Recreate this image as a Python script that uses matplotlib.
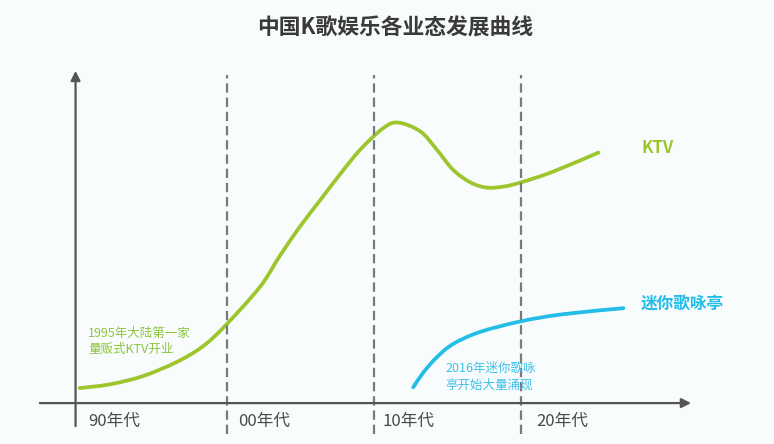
import matplotlib.pyplot as plt
from matplotlib.path import Path
from matplotlib.patches import PathPatch

plt.rcParams['font.family'] = ['Noto Sans CJK SC', 'DejaVu Sans']

# KTV 曲线 (年份, 相对热度)
ktv_year = [1990.0, 1992.1, 1994.3, 1996.6, 1998.4, 2000.0, 2002.3, 2003.6,
            2005.0, 2006.4, 2007.7, 2009.1, 2010.7, 2011.7, 2013.2, 2014.3,
            2015.4, 2016.6, 2017.7, 2018.8, 2020.0, 2022.2, 2025.3]
ktv_val = [5.0, 6.3, 9.0, 13.7, 19.0, 26.3, 39.0, 49.0,
           59.0, 68.0, 76.3, 84.7, 92.0, 93.7, 90.7, 84.7,
           78.0, 73.7, 72.0, 72.3, 73.7, 77.3, 83.7]

# 迷你歌咏亭 曲线
mini_year = [2012.7, 2013.4, 2014.3, 2015.4, 2017.2, 2020.0, 2022.9, 2027.0]
mini_val = [5.3, 10.3, 15.3, 19.7, 23.7, 27.3, 29.7, 31.7]

decades = [2000, 2010, 2020]
decade_labels = ['90年代', '00年代', '10年代', '20年代']
label_x = [1990.6, 2000.8, 2010.6, 2021.1]

green = '#9dc62d'
cyan = '#23bde8'
bg = '#f8fcfd'


def smooth_path(xs, ys):
    # 平滑曲线: Catmull-Rom 转成三次贝塞尔, 交给 Path 画
    pts = list(zip(xs, ys))
    verts = [pts[0]]
    codes = [Path.MOVETO]
    n = len(pts)
    for i in range(n - 1):
        p0 = pts[max(i - 1, 0)]
        p1 = pts[i]
        p2 = pts[i + 1]
        p3 = pts[min(i + 2, n - 1)]
        c1 = (p1[0] + (p2[0] - p0[0]) / 6, p1[1] + (p2[1] - p0[1]) / 6)
        c2 = (p2[0] - (p3[0] - p1[0]) / 6, p2[1] - (p3[1] - p1[1]) / 6)
        verts += [c1, c2, p2]
        codes += [Path.CURVE4] * 3
    return Path(verts, codes)


fig = plt.figure(figsize=(7.74, 4.44), dpi=100, facecolor=bg)
ax = fig.add_axes([0, 0, 1, 1])
ax.set_facecolor(bg)
ax.set_xlim(1984.59, 2037.24)
ax.set_ylim(-13.67, 134.67)
ax.axis('off')

# 坐标轴(带箭头)
ax.annotate('', xy=(1989.73, 111), xytext=(1989.73, -7.7),
            arrowprops=dict(arrowstyle='-|>', color='#555555', lw=1.6,
                            mutation_scale=14, shrinkA=0, shrinkB=0))
ax.annotate('', xy=(2031.6, 0), xytext=(1987.3, 0),
            arrowprops=dict(arrowstyle='-|>', color='#555555', lw=1.6,
                            mutation_scale=14, shrinkA=0, shrinkB=0))

# 年代分隔虚线
for d in decades:
    ax.plot([d, d], [-10.3, 109.7], color='#7a7a7a', lw=1.6, dashes=(4.2, 2.2))

ax.add_patch(PathPatch(smooth_path(ktv_year, ktv_val), facecolor='none',
                       edgecolor=green, lw=2.7, capstyle='round', joinstyle='round'))
ax.add_patch(PathPatch(smooth_path(mini_year, mini_val), facecolor='none',
                       edgecolor=cyan, lw=2.7, capstyle='round', joinstyle='round'))

for x, lab in zip(label_x, decade_labels):
    ax.text(x, -6.3, lab, fontsize=12, color='#4a4a4a', ha='left', va='center')

ax.text(2029.3, 85.3, 'KTV', fontsize=12, color=green, fontweight='bold',
        ha='center', va='center')
ax.text(2031.0, 33.0, '迷你歌咏亭', fontsize=12, color=cyan, fontweight='bold',
        ha='center', va='center')

ax.text(1990.6, 20.7, '1995年大陆第一家\n量贩式KTV开业', fontsize=9, color='#8cc63f',
        ha='left', va='center', linespacing=1.3)
ax.text(2014.9, 8.8, '2016年迷你歌咏\n亭开始大量涌现', fontsize=9, color='#3fc0e8',
        ha='left', va='center', linespacing=1.3)

fig.text(0.51, 1 - 28 / 444, '中国K歌娱乐各业态发展曲线', fontsize=15.7,
         fontweight='bold', color='#3a3a3a', ha='center', va='center')

fig.savefig('out.png', dpi=100, facecolor=bg)
